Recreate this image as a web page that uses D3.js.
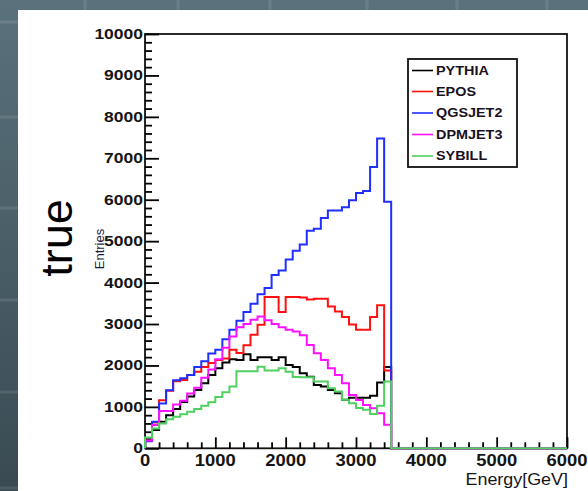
<!DOCTYPE html>
<html>
<head>
<meta charset="utf-8">
<script src="https://cdn.jsdelivr.net/npm/d3@7"></script>
<style>
  html, body { margin: 0; padding: 0; background: #4a5f68; }
  svg { display: block; }
</style>
</head>
<body>
<svg id="chart" width="588" height="491"></svg>
<script>
// ---- data (bin low edges in GeV, bin width 100 GeV) ----
const binLow = [0,100,200,300,400,500,600,700,800,900,1000,1100,1200,1300,1400,1500,1600,1700,1800,1900,2000,2100,2200,2300,2400,2500,2600,2700,2800,2900,3000,3100,3200,3300,3400];
const binWidth = 100;
const xMax = 6000;
const yMax = 10000;

const pythia  = [220,440,640,800,950,1120,1250,1410,1570,1770,1930,2070,2150,2130,2270,2130,2200,2200,2130,2200,2010,1960,1810,1730,1530,1490,1410,1330,1170,1220,1220,1220,1270,1590,1960];
const epos    = [180,620,1160,1390,1620,1650,1770,1850,1960,2060,2130,2170,2380,2300,2490,2740,2980,3650,3650,3290,3650,3650,3640,3590,3610,3610,3420,3300,3170,2990,2860,2860,3170,3450,1880];
const qgsjet2 = [170,640,1080,1400,1640,1690,1770,1960,2100,2290,2380,2630,2860,3080,3290,3490,3720,3870,4180,4290,4560,4770,4920,5250,5300,5560,5740,5740,5820,5990,6160,6210,6790,7480,5950];
const dpmjet3 = [190,560,900,900,1060,1150,1320,1460,1700,1900,2150,2430,2700,2920,3000,3100,3180,3090,3000,2920,2860,2820,2730,2494,2293,2131,1931,1770,1569,1287,1166,1045,965,845,570];
const sybill  = [260,480,600,700,760,820,880,950,1030,1110,1240,1350,1490,1860,1860,1860,1970,1880,1880,1930,1850,1720,1714,1714,1610,1610,1450,1370,1170,1090,970,930,830,1030,1610];

const seriesNames  = ["PYTHIA","EPOS","QGSJET2","DPMJET3","SYBILL"];
const seriesValues = [pythia, epos, qgsjet2, dpmjet3, sybill];
const seriesColors = ["#000000","#ff1010","#1f2fff","#ff10ff","#4fd060"];

const xTickValues = [0,1000,2000,3000,4000,5000,6000];
const yTickValues = [0,1000,2000,3000,4000,5000,6000,7000,8000,9000,10000];

// ---- drawing ----
const svg = d3.select("#chart");
const W = 588, H = 491;

// slide background
const defs = svg.append("defs");
const grad = defs.append("linearGradient").attr("id","bg").attr("x1",0).attr("y1",0).attr("x2",0).attr("y2",1);
grad.append("stop").attr("offset","0%").attr("stop-color","#5a727c");
grad.append("stop").attr("offset","100%").attr("stop-color","#394a52");
svg.append("rect").attr("width",W).attr("height",H).attr("fill","url(#bg)");
const gridG = svg.append("g").attr("stroke","rgba(255,255,255,0.10)").attr("stroke-width",3);
[85,178,270,367,457,547].forEach(v => gridG.append("line").attr("x1",v).attr("x2",v).attr("y1",0).attr("y2",H));
[22,117,208,300,392,488].forEach(v => gridG.append("line").attr("y1",v).attr("y2",v).attr("x1",0).attr("x2",W));

// white canvas
svg.append("rect").attr("x",18).attr("y",10).attr("width",W-18).attr("height",H-10).attr("fill","#ffffff");

const pL = 145, pR = 567, pT = 34, pB = 448.3;
const x = d3.scaleLinear().domain([0, xMax]).range([pL, pR]);
const y = d3.scaleLinear().domain([0, yMax]).range([pB, pT]);

// frame
svg.append("rect").attr("x",pL).attr("y",pT).attr("width",pR-pL).attr("height",pB-pT)
  .attr("fill","none").attr("stroke","#111").attr("stroke-width",1.8);

// y axis ticks (inside)
const yAxis = d3.axisRight(y).tickValues(d3.range(0, yMax + 1, 200)).tickSize(7).tickFormat("");
const gy = svg.append("g").attr("transform",`translate(${pL},0)`).call(yAxis);
gy.select(".domain").remove();
gy.selectAll(".tick line").attr("stroke","#000").attr("stroke-width",1.8)
  .attr("x2", d => (d % 1000 === 0 ? 14 : 7));

// x axis ticks (inside, pointing up)
const xAxis = d3.axisTop(x).tickValues(d3.range(0, xMax + 1, 200)).tickSize(6).tickFormat("");
const gx = svg.append("g").attr("transform",`translate(0,${pB})`).call(xAxis);
gx.select(".domain").remove();
gx.selectAll(".tick line").attr("stroke","#000").attr("stroke-width",1.8)
  .attr("y2", d => (d % 1000 === 0 ? -11 : -6));

// y tick labels
const labFont = "'Liberation Sans', Arial, Helvetica, sans-serif";
svg.append("g").selectAll("text").data(yTickValues).join("text")
  .attr("transform", d => `translate(${pL-2},${y(d)+5}) scale(1.25,1)`)
  .attr("text-anchor","end")
  .attr("font-family",labFont).attr("font-weight","bold").attr("font-size",14)
  .attr("fill","#151515")
  .text(d => d);

// x tick labels
svg.append("g").selectAll("text").data(xTickValues).join("text")
  .attr("transform", d => `translate(${x(d)},${466}) scale(1.15,1)`)
  .attr("text-anchor","middle")
  .attr("font-family",labFont).attr("font-weight","bold").attr("font-size",16)
  .attr("fill","#151515")
  .text(d => d);

// axis titles
svg.append("text")
  .attr("transform",`translate(568,485) scale(1.12,1)`)
  .attr("text-anchor","end")
  .attr("font-family",labFont).attr("font-size",16).attr("fill","#151515")
  .text("Energy[GeV]");
svg.append("text")
  .attr("transform",`translate(104,249) rotate(-90)`)
  .attr("text-anchor","middle")
  .attr("font-family",labFont).attr("font-size",13).attr("fill","#1a1a40")
  .text("Entries");
svg.append("text")
  .attr("transform",`translate(72,238) rotate(-90)`)
  .attr("text-anchor","middle")
  .attr("font-family",labFont).attr("font-size",45).attr("fill","#000")
  .text("true");

// histograms
const line = d3.line().x(p => x(p[0])).y(p => y(p[1])).curve(d3.curveStepAfter);
seriesValues.forEach((vals, si) => {
  const pts = [[binLow[0], 0]];
  vals.forEach((v, i) => pts.push([binLow[i], v]));
  const end = binLow[binLow.length - 1] + binWidth;
  pts.push([end, 0]);
  pts.push([xMax, 0]);
  svg.append("path").attr("d", line(pts))
    .attr("fill","none").attr("stroke", seriesColors[si]).attr("stroke-width",2)
    .attr("stroke-linejoin","miter");
});

// legend
const lg = svg.append("g");
lg.append("rect").attr("x",408).attr("y",59).attr("width",109).attr("height",108)
  .attr("fill","#fff").attr("stroke","#111").attr("stroke-width",1.8);
const rowY = [70.5, 91.5, 113, 134.5, 156];
seriesNames.forEach((name, i) => {
  lg.append("line").attr("x1",412).attr("x2",433).attr("y1",rowY[i]).attr("y2",rowY[i])
    .attr("stroke",seriesColors[i]).attr("stroke-width",1.6);
  lg.append("text")
    .attr("transform",`translate(436,${rowY[i]+4.3}) scale(1.2,1)`)
    .attr("font-family",labFont).attr("font-weight","bold").attr("font-size",12)
    .attr("fill","#1a1020")
    .text(name);
});
</script>
</body>
</html>
